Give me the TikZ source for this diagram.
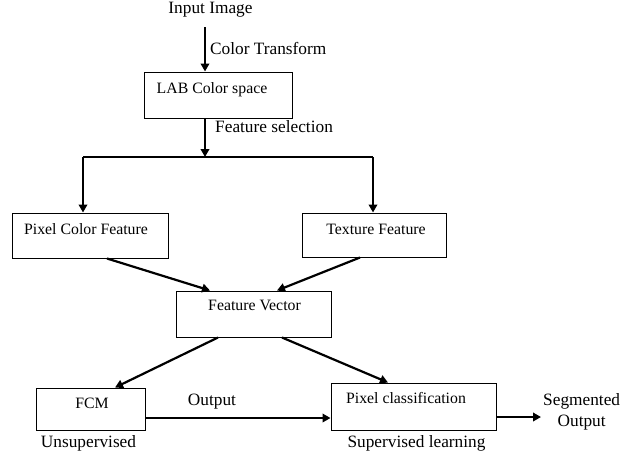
\documentclass[tikz,border=0pt]{standalone}
\usepackage{fontspec}
\setmainfont{Liberation Serif}
\usetikzlibrary{arrows.meta}
\begin{document}
\begin{tikzpicture}[x=1pt,y=-1pt,
  box/.style={draw=black,line width=1pt,inner sep=0pt},
  btxt/.style={inner sep=0pt,font=\fontsize{15.8}{18}\selectfont},
  ltxt/.style={inner sep=0pt,font=\fontsize{17.3}{21}\selectfont},
  arr/.style={line width=2.2pt,-{Triangle[length=8pt,width=8.5pt]}},
  thinline/.style={line width=1.3pt}]
\useasboundingbox (0,0) rectangle (621,456);
\fill[white] (0,0) rectangle (621,456);
% boxes
\node[box,minimum width=148,minimum height=46] (lab) at (218,95) {};
\node[btxt] (labt) at (212,90) {LAB Color space};
\node[box,minimum width=156,minimum height=45] (pcf) at (90,235.5) {};
\node[btxt] (pcft) at (86,229) {Pixel Color Feature};
\node[box,minimum width=144,minimum height=44] (tf) at (374,235) {};
\node[btxt] (tft) at (376,229) {Texture Feature};
\node[box,minimum width=155,minimum height=46] (fv) at (253.5,314) {};
\node[btxt] (fvt) at (254.5,305) {Feature Vector};
\node[box,minimum width=109,minimum height=42] (fcm) at (90.5,409) {};
\node[btxt] (fcmt) at (92,403) {FCM};
\node[box,minimum width=165,minimum height=47] (pc) at (413.5,406.5) {};
\node[btxt] (pct) at (406,398) {Pixel classification};
% labels
\node[ltxt] (in) at (210.5,10) {Input Image};
\node[ltxt,anchor=west] (ct) at (210,48) {Color Transform};
\node[ltxt,anchor=west] (fs) at (215,127) {Feature selection};
\node[ltxt] (outl) at (212,402) {Output};
\node[ltxt] (uns) at (88.5,443) {Unsupervised};
\node[ltxt] (sup) at (416.5,443) {Supervised learning};
\node[ltxt,align=center,anchor=west] (seg) at (543,412) {Segmented\\Output};
% coordinates
\coordinate (spine) at (205,157);
\coordinate (bl) at (83,157);
\coordinate (br) at (373,157);
\coordinate (h1) at (0,418);
\coordinate (h2) at (0,417);
\coordinate (segend) at (541,417);
% connectors
\draw[arr] (spine |- 0,27) -- (spine |- lab.north);
\draw[arr] (spine |- lab.south) -- (spine);
\draw[thinline] (bl) -- (br);
\draw[arr] (bl) -- (bl |- pcf.north);
\draw[arr] (br) -- (br |- tf.north);
\draw[arr] ([xshift=17pt]pcf.south) -- ([xshift=-43.5pt]fv.north);
\draw[arr] ([xshift=-14pt]tf.south) -- ([xshift=23.5pt]fv.north);
\draw[arr] ([xshift=-35.5pt]fv.south) -- ([xshift=24.5pt]fcm.north);
\draw[arr] ([xshift=28.5pt]fv.south) -- ([xshift=-25.5pt]pc.north);
\draw[arr] (fcm.east |- h1) -- (pc.west |- h1);
\draw[arr] (pc.east |- h2) -- (segend);
\end{tikzpicture}
\end{document}
